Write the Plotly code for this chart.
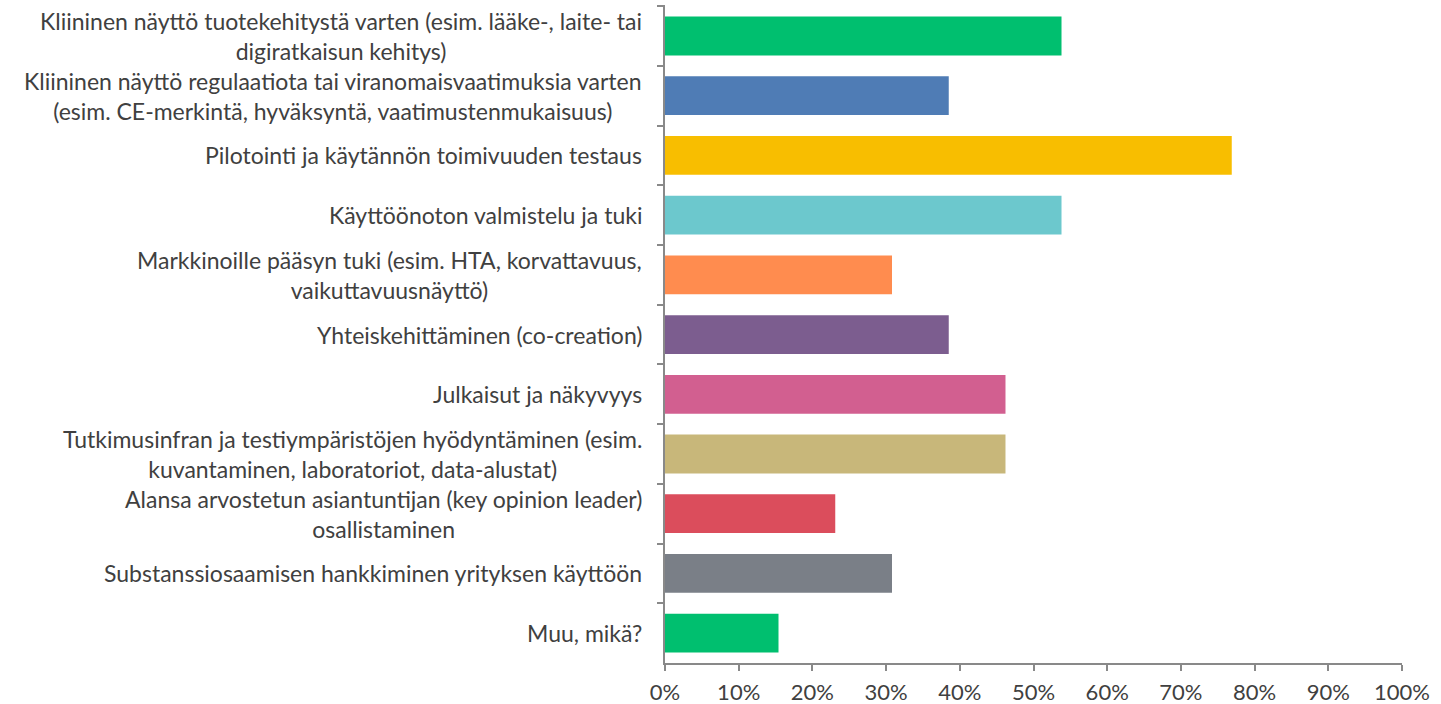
import plotly.graph_objects as go

# Data
categories = [
    "Kliininen näyttö tuotekehitystä varten (esim. lääke-, laite- tai<br>digiratkaisun kehitys)",
    "Kliininen näyttö regulaatiota tai viranomaisvaatimuksia varten<br>(esim. CE-merkintä, hyväksyntä, vaatimustenmukaisuus)",
    "Pilotointi ja käytännön toimivuuden testaus",
    "Käyttöönoton valmistelu ja tuki",
    "Markkinoille pääsyn tuki (esim. HTA, korvattavuus,<br>vaikuttavuusnäyttö)",
    "Yhteiskehittäminen (co-creation)",
    "Julkaisut ja näkyvyys",
    "Tutkimusinfran ja testiympäristöjen hyödyntäminen (esim.<br>kuvantaminen, laboratoriot, data-alustat)",
    "Alansa arvostetun asiantuntijan (key opinion leader)<br>osallistaminen",
    "Substanssiosaamisen hankkiminen yrityksen käyttöön",
    "Muu, mikä?",
]
shares = [53.8, 38.5, 76.9, 53.8, 30.8, 38.5, 46.2, 46.2, 23.1, 30.8, 15.4]
colors = ["#00BF6F", "#4F7CB5", "#F8BE00", "#6CC8CD", "#FF8C4F", "#7C5D8F",
          "#D25F90", "#C8B77A", "#DB4D5C", "#7A7F87", "#00BF6F"]
x_ticks = list(range(0, 101, 10))
x_labels = [f"{t}%" for t in x_ticks]

font_name = "Lato"
text_color = "#404040"
axis_color = "#898989"

fig = go.Figure(go.Bar(
    x=shares,
    y=categories,
    orientation="h",
    marker=dict(color=colors, line=dict(width=0)),
    hoverinfo="x+y",
))

# Category labels as centred annotations
for cat in categories:
    fig.add_annotation(
        x=0, xref="paper", y=cat, yref="y",
        text=cat, showarrow=False,
        xanchor="right", xshift=-21, align="center",
        font=dict(family=font_name, size=23, color=text_color),
    )

fig.update_layout(
    width=1441, height=704,
    margin=dict(l=665, r=39, t=5, b=41),
    plot_bgcolor="white", paper_bgcolor="white",
    bargap=0.35,
    showlegend=False,
    xaxis=dict(
        range=[0, 100], tickvals=x_ticks, ticktext=x_labels,
        showgrid=False, zeroline=False, automargin=False,
        showline=True, linecolor=axis_color, linewidth=2,
        ticks="outside", ticklen=6, tickcolor=axis_color, tickwidth=2,
        ticklabelstandoff=3,
        tickfont=dict(family=font_name, size=22, color=text_color),
    ),
    yaxis=dict(
        categoryorder="array", categoryarray=categories,
        autorange="reversed", showticklabels=False,
        showgrid=False, zeroline=False, automargin=False,
        showline=True, linecolor=axis_color, linewidth=2,
        ticks="outside", ticklen=6, tickcolor=axis_color, tickwidth=2,
        tickson="boundaries",
    ),
)

# drop the default page margin so the figure sits at the window corner
fig.write_html("out.html", config={"displayModeBar": False},
               post_script="document.body.style.margin='0px';")
